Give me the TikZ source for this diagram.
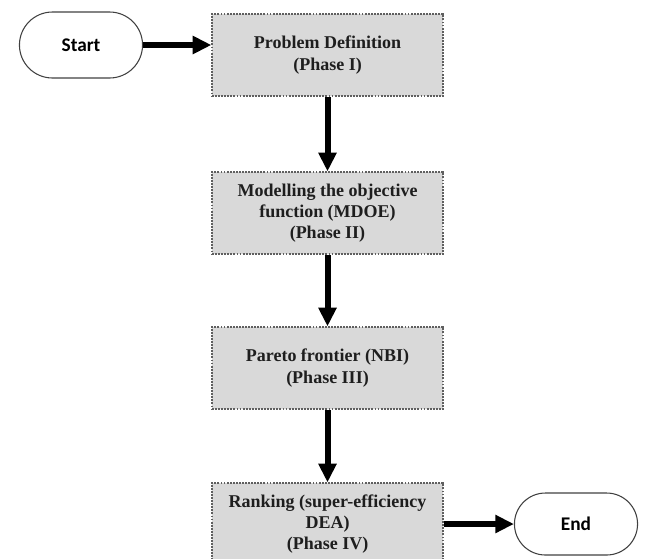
\documentclass[tikz,border=0pt]{standalone}
\usepackage{fontspec}
\setmainfont{Liberation Serif}
\newfontfamily\startfont{Carlito}
\usetikzlibrary{shapes.misc,arrows.meta}
\definecolor{boxfill}{HTML}{D9D9D9}
\definecolor{boxline}{HTML}{5F5F5F}
\definecolor{txt}{HTML}{1E1E1E}
\tikzset{
  phasebox/.style={draw=boxline, fill=boxfill, dash pattern=on 1.4pt off 0.9pt, line width=1pt,
    minimum width=173.25pt, minimum height=61.5pt, align=center, inner sep=2pt,
    font=\fontsize{13.5}{16}\selectfont\bfseries, text=txt},
  terminal/.style={draw=black!75, rounded rectangle, line width=0.8pt, minimum width=99pt,
    font=\startfont\fontsize{14.5}{17}\selectfont\bfseries, text=black},
  flowarrow/.style={line width=4.5pt, -{Triangle[length=14pt,width=13pt]}, black}
}
\begin{document}
\begin{tikzpicture}[x=0.75pt,y=-0.75pt]
\useasboundingbox (0,0) rectangle (645,558);
\node[terminal, minimum height=49.5pt] (start) at (81,45) {Start};
\node[phasebox] (p1) at (327.5,55) {Problem Definition\\(Phase I)};
\node[phasebox] (p2) at (327.5,213) {Modelling the objective\\function (MDOE)\\(Phase II)};
\node[phasebox] (p3) at (327.5,368) {Pareto frontier (NBI)\\(Phase III)};
\node[phasebox] (p4) at (327.5,524) {Ranking (super-efficiency\\DEA)\\(Phase IV)};
\node[terminal, minimum height=46.5pt] (end) at (576,524) {End};
\draw[flowarrow] (start.east) -- (start.east -| p1.west);
\draw[flowarrow] (p1.south) -- (p2.north);
\draw[flowarrow] (p2.south) -- (p3.north);
\draw[flowarrow] (p3.south) -- (p4.north);
\draw[flowarrow] (p4.east) -- (end.west);
\end{tikzpicture}
\end{document}
